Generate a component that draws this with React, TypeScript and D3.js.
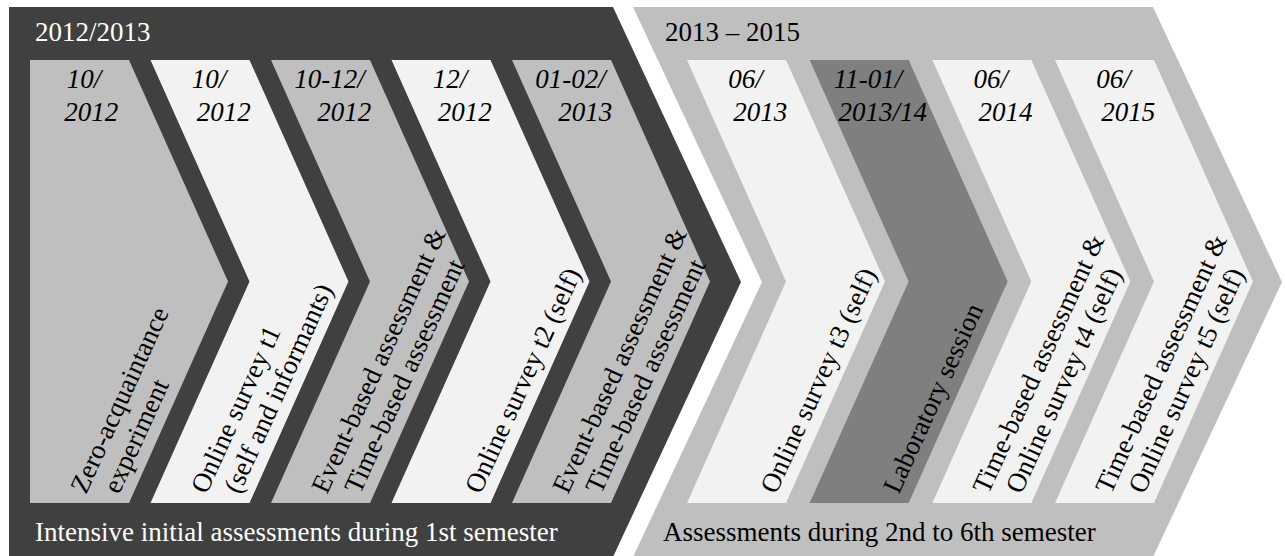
import React from "react";
import * as d3 from "d3";

// phases (the two big chevrons)
const phaseTitles = ["2012/2013", "2013 – 2015"];
const phaseFooters = [
  "Intensive initial assessments during 1st semester",
  "Assessments during 2nd to 6th semester",
];
const phaseFills = ["#404040", "#bfbfbf"];
const phaseTextColors = ["#ffffff", "#000000"];

// steps (the small chevrons)
const stepPhase = [0, 0, 0, 0, 0, 1, 1, 1, 1];
const stepDates = [
  ["10/", "2012"],
  ["10/", "2012"],
  ["10-12/", "2012"],
  ["12/", "2012"],
  ["01-02/", "2013"],
  ["06/", "2013"],
  ["11-01/", "2013/14"],
  ["06/", "2014"],
  ["06/", "2015"],
];
const stepLabels = [
  ["Zero-acquaintance", "experiment"],
  ["Online survey t1", "(self and informants)"],
  ["Event-based assessment &", "Time-based assessment"],
  ["Online survey t2 (self)"],
  ["Event-based assessment &", "Time-based assessment"],
  ["Online survey t3 (self)"],
  ["Laboratory session"],
  ["Time-based assessment &", "Online survey t4 (self)"],
  ["Time-based assessment &", "Online survey t5 (self)"],
];
const stepFills = ["#bfbfbf", "#f2f2f2", "#bfbfbf", "#f2f2f2", "#bfbfbf", "#f2f2f2", "#7f7f7f", "#f2f2f2", "#f2f2f2"];

const W = 1285;
const H = 556;
const FONT = "'Liberation Serif', 'Times New Roman', serif";

const line = d3.line<[number, number]>();

function chevron(x: number, w: number, d: number, y0: number, y1: number, notched: boolean) {
  const ym = (y0 + y1) / 2;
  const pts: [number, number][] = [
    [x, y0],
    [x + w, y0],
    [x + w + d, ym],
    [x + w, y1],
    [x, y1],
  ];
  if (notched) pts.push([x + d, ym]);
  return line(pts) + "Z";
}

export default function App() {
  // big chevrons
  const bigY = d3.scaleLinear().domain([0, 1]).range([7, 557]);
  const bigLeft = [9, 633];
  const bigRight = [613, 1153];
  const bigDepth = [128, 129];

  // small chevrons
  const stepX = [
    d3.scaleLinear().domain([0, 4]).range([30, 512]),
    d3.scaleLinear().domain([0, 3]).range([687, 1055]),
  ];
  const y = d3.scaleLinear().domain([0, 1]).range([60, 503]);
  const w = 99;
  const d = 99;
  const slope = d / (y(0.5) - y(0));

  const rows = stepPhase.map((p, i) => {
    const idx = stepPhase.slice(0, i).filter((q) => q === p).length;
    return { p, i, idx, x: stepX[p](idx), notched: i !== 0 };
  });

  const centerAt = (r: any, yy: number) => {
    const left = r.notched ? r.x + slope * (yy - y(0)) : r.x;
    const right = r.x + w + slope * (yy - y(0));
    return (left + right) / 2;
  };

  return (
    <svg width={W} height={H} style={{ position: "absolute", left: 0, top: 0, display: "block", background: "#fff" }}>
      {phaseTitles.map((t, p) => (
        <g key={"ph" + p}>
          <path
            d={chevron(bigLeft[p], bigRight[p] - bigLeft[p], bigDepth[p], bigY(0), bigY(1), p !== 0)}
            fill={phaseFills[p]}
          />
          <text x={bigLeft[p] + (p === 0 ? 26 : 32)} y={41} fontFamily={FONT} fontSize={27} fill={phaseTextColors[p]}>
            {t}
          </text>
          <text x={bigLeft[p] + (p === 0 ? 26 : 30)} y={541} fontFamily={FONT} fontSize={27} fill={phaseTextColors[p]}>
            {phaseFooters[p]}
          </text>
        </g>
      ))}
      {rows.map((r) => (
        <g key={"st" + r.i}>
          <path d={chevron(r.x, w, d, y(0), y(1), r.notched)} fill={stepFills[r.i]} />
          {stepDates[r.i].map((s, j) => {
            const by = 88 + j * 33;
            return (
              <text
                key={j}
                x={centerAt(r, by - 8)}
                y={by}
                textAnchor="middle"
                fontFamily={FONT}
                fontStyle="italic"
                fontSize={27}
                fill="#000"
              >
                {s}
              </text>
            );
          })}
          {stepLabels[r.i].map((s, j) => {
            const k = stepLabels[r.i].length;
            const lx = r.x + 89 - (k - 1 - j) * 33;
            return (
              <text
                key={"l" + j}
                transform={`translate(${lx},495) rotate(-65.5)`}
                fontFamily={FONT}
                fontSize={27}
                fill="#000"
              >
                {s}
              </text>
            );
          })}
        </g>
      ))}
    </svg>
  );
}
